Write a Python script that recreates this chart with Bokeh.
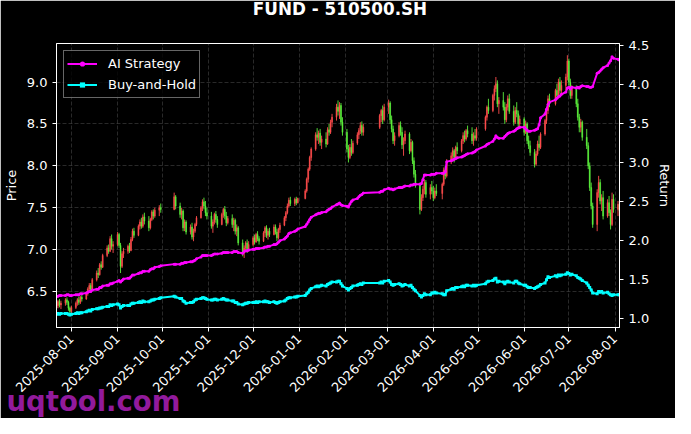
import math
import pandas as pd
from bokeh.plotting import figure
from bokeh.models import (Range1d, LinearAxis, FixedTicker, NumeralTickFormatter,
                          DatetimeTickFormatter, Label, Legend, LegendItem, ColumnDataSource)
from bokeh.embed import file_html
from bokeh.resources import INLINE

# ---------------- data ----------------
start_date = "2025-07-22"
end_date = "2026-08-04"
holidays = ["2025-10-01", "2025-10-02", "2025-10-03", "2025-10-06", "2025-10-07", "2025-10-08",
            "2026-01-01", "2026-01-02",
            "2026-02-16", "2026-02-17", "2026-02-18", "2026-02-19", "2026-02-20", "2026-02-23",
            "2026-04-06", "2026-05-01", "2026-05-04", "2026-05-05", "2026-06-19"]

opens = [6.30, 6.33, 6.38, 6.34,
         6.36, 6.40, 6.37, 6.30, 6.26,
         6.31, 6.36, 6.40, 6.37, 6.43,
         6.41, 6.48, 6.53, 6.57, 6.52,
         6.64, 6.72, 6.70, 6.82, 6.79,
         6.93, 7.02, 6.98, 7.13, 7.04,
         7.06, 7.18, 7.05, 6.80, 6.95,
         6.98, 7.04, 6.99, 7.12, 7.22,
         7.17, 7.28, 7.33, 7.28, 7.39,
         7.34, 7.26, 7.36, 7.45, 7.40,
         7.47, 7.50,
         7.48, 7.63,
         7.52, 7.42, 7.46, 7.26, 7.33,
         7.21, 7.27, 7.15, 7.22, 7.30,
         7.38, 7.50, 7.57, 7.52, 7.44,
         7.40, 7.28, 7.33, 7.42, 7.36,
         7.30, 7.42, 7.48, 7.40, 7.32,
         7.37, 7.30, 7.35, 7.22, 7.26,
         7.08, 6.96, 7.02, 7.08, 7.00,
         7.06, 7.14, 7.09, 7.18, 7.13,
         7.10, 7.20, 7.26, 7.17, 7.22,
         7.18, 7.27, 7.21, 7.14, 7.24,
         7.29, 7.38, 7.44, 7.52, 7.59,
         7.55, 7.60, 7.56,
         7.61, 7.70, 7.84, 7.96, 8.10,
         8.20, 8.37, 8.34, 8.39, 8.28,
         8.32, 8.26, 8.43, 8.40, 8.52,
         8.58, 8.70, 8.65, 8.72, 8.52,
         8.40, 8.20, 8.10, 8.22, 8.16,
         8.27, 8.37, 8.42, 8.48, 8.40,
         8.46, 8.60, 8.66, 8.55,
         8.70, 8.75, 8.55, 8.44, 8.30,
         8.36, 8.48, 8.40, 8.25, 8.30,
         8.38, 8.18, 8.28, 8.06, 7.90,
         7.78, 7.48, 7.62, 7.72, 7.80,
         7.66, 7.74, 7.70, 7.62, 7.70,
         7.67, 7.78, 7.95, 7.88,
         8.05, 8.12, 8.18, 8.10, 8.22,
         8.18, 8.30, 8.36, 8.32, 8.42,
         8.38, 8.30, 8.36, 8.33,
         8.44, 8.58, 8.70,
         8.66, 8.84, 8.92, 8.98, 8.74,
         8.78, 8.70, 8.55, 8.70, 8.80,
         8.65, 8.52, 8.66, 8.62, 8.50,
         8.56, 8.40, 8.50, 8.30, 8.24,
         8.16, 8.02, 8.14, 8.26, 8.22,
         8.38, 8.54, 8.66, 8.80,
         8.74, 8.90, 8.84, 9.00, 8.90,
         8.96, 9.06, 9.25, 9.00, 8.84,
         8.92, 8.74, 8.58, 8.46, 8.52,
         8.34, 8.24, 8.00, 7.74, 7.52,
         7.30, 7.68, 7.80, 7.58, 7.62,
         7.40, 7.56, 7.44, 7.30, 7.60,
         7.48, 7.54]

highs = [6.36, 6.40, 6.41, 6.39,
         6.42, 6.43, 6.39, 6.32, 6.33,
         6.38, 6.42, 6.44, 6.45, 6.47,
         6.50, 6.55, 6.60, 6.60, 6.66,
         6.75, 6.78, 6.84, 6.86, 6.95,
         7.05, 7.06, 7.16, 7.18, 7.10,
         7.21, 7.20, 7.08, 6.98, 7.02,
         7.06, 7.08, 7.15, 7.25, 7.26,
         7.30, 7.36, 7.38, 7.42, 7.44,
         7.40, 7.38, 7.47, 7.48, 7.50,
         7.53, 7.55,
         7.68, 7.65,
         7.56, 7.50, 7.48, 7.36, 7.35,
         7.30, 7.32, 7.25, 7.32, 7.40,
         7.52, 7.60, 7.62, 7.58, 7.50,
         7.45, 7.36, 7.44, 7.46, 7.40,
         7.44, 7.50, 7.52, 7.45, 7.40,
         7.42, 7.38, 7.37, 7.30, 7.28,
         7.12, 7.05, 7.10, 7.12, 7.10,
         7.16, 7.18, 7.20, 7.22, 7.16,
         7.22, 7.28, 7.29, 7.25, 7.26,
         7.30, 7.30, 7.25, 7.26, 7.32,
         7.40, 7.46, 7.55, 7.62, 7.63,
         7.62, 7.63, 7.62,
         7.72, 7.86, 7.98, 8.12, 8.22,
         8.40, 8.45, 8.42, 8.44, 8.36,
         8.40, 8.46, 8.50, 8.55, 8.62,
         8.74, 8.78, 8.76, 8.75, 8.58,
         8.44, 8.25, 8.26, 8.32, 8.30,
         8.40, 8.45, 8.52, 8.53, 8.50,
         8.62, 8.68, 8.72, 8.74,
         8.79, 8.77, 8.60, 8.48, 8.40,
         8.52, 8.53, 8.46, 8.34, 8.42,
         8.40, 8.32, 8.30, 8.10, 7.95,
         7.80, 7.66, 7.76, 7.84, 7.83,
         7.78, 7.82, 7.76, 7.74, 7.78,
         7.80, 7.98, 8.00, 8.08,
         8.16, 8.22, 8.20, 8.24, 8.28,
         8.32, 8.40, 8.42, 8.44, 8.48,
         8.46, 8.40, 8.44, 8.46,
         8.60, 8.72, 8.80,
         8.86, 8.96, 9.06, 9.02, 8.82,
         8.88, 8.76, 8.74, 8.84, 8.86,
         8.72, 8.70, 8.76, 8.66, 8.60,
         8.58, 8.54, 8.52, 8.36, 8.30,
         8.20, 8.18, 8.30, 8.36, 8.40,
         8.56, 8.70, 8.84, 8.86,
         8.92, 8.98, 9.04, 9.06, 9.02,
         9.10, 9.32, 9.28, 9.04, 8.96,
         8.96, 8.80, 8.62, 8.56, 8.54,
         8.44, 8.28, 8.04, 7.80, 7.56,
         7.72, 7.88, 7.84, 7.66, 7.70,
         7.60, 7.64, 7.48, 7.68, 7.66,
         7.58, 7.58]

lows = [6.27, 6.30, 6.31, 6.29,
        6.33, 6.34, 6.27, 6.22, 6.24,
        6.29, 6.33, 6.34, 6.35, 6.38,
        6.40, 6.45, 6.50, 6.49, 6.51,
        6.62, 6.66, 6.69, 6.76, 6.78,
        6.91, 6.95, 6.97, 7.00, 6.96,
        7.04, 7.02, 6.72, 6.78, 6.90,
        6.95, 6.96, 6.98, 7.10, 7.14,
        7.16, 7.24, 7.25, 7.26, 7.30,
        7.22, 7.24, 7.34, 7.36, 7.38,
        7.40, 7.44,
        7.47, 7.48,
        7.38, 7.36, 7.22, 7.22, 7.18,
        7.18, 7.12, 7.10, 7.20, 7.28,
        7.37, 7.46, 7.48, 7.40, 7.36,
        7.25, 7.20, 7.30, 7.32, 7.26,
        7.29, 7.38, 7.36, 7.28, 7.30,
        7.26, 7.22, 7.18, 7.16, 7.05,
        6.92, 6.90, 6.98, 6.96, 6.98,
        7.04, 7.06, 7.08, 7.10, 7.06,
        7.09, 7.15, 7.14, 7.12, 7.15,
        7.17, 7.18, 7.10, 7.12, 7.20,
        7.28, 7.34, 7.42, 7.50, 7.52,
        7.52, 7.53, 7.55,
        7.60, 7.68, 7.80, 7.94, 8.06,
        8.18, 8.30, 8.26, 8.24, 8.20,
        8.22, 8.25, 8.36, 8.38, 8.46,
        8.54, 8.60, 8.56, 8.48, 8.36,
        8.16, 8.04, 8.08, 8.12, 8.14,
        8.25, 8.32, 8.38, 8.36, 8.36,
        8.44, 8.52, 8.50, 8.53,
        8.62, 8.50, 8.40, 8.26, 8.24,
        8.34, 8.36, 8.20, 8.12, 8.26,
        8.14, 8.16, 8.02, 7.86, 7.74,
        7.42, 7.46, 7.58, 7.66, 7.62,
        7.60, 7.66, 7.58, 7.60, 7.64,
        7.60, 7.76, 7.84, 7.86,
        8.02, 8.08, 8.04, 8.08, 8.14,
        8.16, 8.26, 8.28, 8.30, 8.34,
        8.26, 8.24, 8.30, 8.30,
        8.42, 8.54, 8.62,
        8.64, 8.78, 8.88, 8.70, 8.62,
        8.66, 8.50, 8.52, 8.66, 8.62,
        8.48, 8.50, 8.58, 8.46, 8.44,
        8.36, 8.38, 8.26, 8.20, 8.12,
        7.98, 8.00, 8.12, 8.18, 8.20,
        8.36, 8.50, 8.62, 8.70,
        8.72, 8.80, 8.82, 8.86, 8.84,
        8.90, 9.02, 8.96, 8.80, 8.80,
        8.70, 8.54, 8.40, 8.40, 8.30,
        8.20, 7.96, 7.70, 7.48, 7.26,
        7.22, 7.62, 7.54, 7.46, 7.36,
        7.38, 7.40, 7.24, 7.28, 7.44,
        7.40, 7.42]

closes = [6.33, 6.38, 6.34, 6.36,
          6.40, 6.37, 6.30, 6.26, 6.31,
          6.36, 6.40, 6.37, 6.43, 6.41,
          6.48, 6.53, 6.57, 6.52, 6.64,
          6.72, 6.70, 6.82, 6.79, 6.93,
          7.02, 6.98, 7.13, 7.04, 7.06,
          7.18, 7.05, 6.80, 6.95, 6.98,
          7.04, 6.99, 7.12, 7.22, 7.17,
          7.28, 7.33, 7.28, 7.39, 7.34,
          7.26, 7.36, 7.45, 7.40, 7.47,
          7.50, 7.48,
          7.63, 7.52,
          7.42, 7.46, 7.26, 7.33, 7.21,
          7.27, 7.15, 7.22, 7.30, 7.38,
          7.50, 7.57, 7.52, 7.44, 7.40,
          7.28, 7.33, 7.42, 7.36, 7.30,
          7.42, 7.48, 7.40, 7.32, 7.37,
          7.30, 7.35, 7.22, 7.26, 7.08,
          6.96, 7.02, 7.08, 7.00, 7.06,
          7.14, 7.09, 7.18, 7.13, 7.10,
          7.20, 7.26, 7.17, 7.22, 7.18,
          7.27, 7.21, 7.14, 7.24, 7.29,
          7.38, 7.44, 7.52, 7.59, 7.55,
          7.60, 7.56, 7.61,
          7.70, 7.84, 7.96, 8.10, 8.20,
          8.37, 8.34, 8.39, 8.28, 8.32,
          8.26, 8.43, 8.40, 8.52, 8.58,
          8.70, 8.65, 8.72, 8.52, 8.40,
          8.20, 8.10, 8.22, 8.16, 8.27,
          8.37, 8.42, 8.48, 8.40, 8.46,
          8.60, 8.66, 8.55, 8.70,
          8.75, 8.55, 8.44, 8.30, 8.36,
          8.48, 8.40, 8.25, 8.30, 8.38,
          8.18, 8.28, 8.06, 7.90, 7.78,
          7.48, 7.62, 7.72, 7.80, 7.66,
          7.74, 7.70, 7.62, 7.70, 7.67,
          7.78, 7.95, 7.88, 8.05,
          8.12, 8.18, 8.10, 8.22, 8.18,
          8.30, 8.36, 8.32, 8.42, 8.38,
          8.30, 8.36, 8.33, 8.44,
          8.58, 8.70, 8.66,
          8.84, 8.92, 8.98, 8.74, 8.78,
          8.70, 8.55, 8.70, 8.80, 8.65,
          8.52, 8.66, 8.62, 8.50, 8.56,
          8.40, 8.50, 8.30, 8.24, 8.16,
          8.02, 8.14, 8.26, 8.22, 8.38,
          8.54, 8.66, 8.80, 8.74,
          8.90, 8.84, 9.00, 8.90, 8.96,
          9.06, 9.25, 9.00, 8.84, 8.92,
          8.74, 8.58, 8.46, 8.52, 8.34,
          8.24, 8.00, 7.74, 7.52, 7.30,
          7.68, 7.80, 7.58, 7.62, 7.40,
          7.56, 7.44, 7.30, 7.60, 7.48,
          7.54, 7.46]

ai_strategy = [1.29, 1.29, 1.30, 1.30,
               1.30, 1.31, 1.31, 1.30, 1.30,
               1.31, 1.31, 1.31, 1.32, 1.32,
               1.33, 1.34, 1.35, 1.35, 1.37,
               1.38, 1.38, 1.40, 1.40, 1.42,
               1.43, 1.43, 1.45, 1.45, 1.46,
               1.48, 1.49, 1.47, 1.49, 1.51,
               1.52, 1.52, 1.54, 1.56, 1.56,
               1.58, 1.59, 1.59, 1.61, 1.61,
               1.61, 1.63, 1.64, 1.64, 1.66,
               1.67, 1.68,
               1.70, 1.70,
               1.70, 1.71, 1.71, 1.72, 1.72,
               1.73, 1.73, 1.74, 1.75, 1.77,
               1.79, 1.81, 1.81, 1.81, 1.81,
               1.81, 1.82, 1.83, 1.83, 1.83,
               1.84, 1.85, 1.85, 1.85, 1.85,
               1.85, 1.86, 1.86, 1.86, 1.85,
               1.84, 1.86, 1.87, 1.87, 1.88,
               1.89, 1.89, 1.90, 1.90, 1.90,
               1.91, 1.92, 1.92, 1.93, 1.93,
               1.95, 1.95, 1.96, 1.98, 2.00,
               2.02, 2.04, 2.06, 2.09, 2.10,
               2.12, 2.13, 2.15,
               2.18, 2.21, 2.24, 2.27, 2.30,
               2.33, 2.34, 2.35, 2.35, 2.36,
               2.37, 2.39, 2.40, 2.41, 2.43,
               2.46, 2.47, 2.48, 2.46, 2.45,
               2.44, 2.43, 2.47, 2.50, 2.52,
               2.54, 2.56, 2.58, 2.59, 2.61,
               2.62, 2.63, 2.63, 2.65,
               2.67, 2.66, 2.66, 2.65, 2.66,
               2.68, 2.68, 2.68, 2.69, 2.70,
               2.70, 2.71, 2.71, 2.72, 2.72,
               2.72, 2.73, 2.78, 2.84, 2.84,
               2.84, 2.85, 2.85, 2.85, 2.86,
               2.86, 2.86, 2.88, 3.01,
               3.02, 3.03, 3.04, 3.05, 3.06,
               3.07, 3.08, 3.09, 3.10, 3.11,
               3.12, 3.13, 3.14, 3.16,
               3.21, 3.23, 3.24,
               3.27, 3.30, 3.34, 3.32, 3.31,
               3.31, 3.33, 3.35, 3.37, 3.38,
               3.40, 3.41, 3.43, 3.44, 3.45,
               3.45, 3.43, 3.41, 3.40, 3.40,
               3.41, 3.42, 3.43, 3.48, 3.57,
               3.62, 3.68, 3.74, 3.77,
               3.80, 3.82, 3.84, 3.85, 3.87,
               3.90, 3.95, 3.96, 3.94, 3.96,
               3.95, 3.96, 3.95, 3.97, 3.98,
               3.97, 3.97, 3.96, 3.96, 3.97,
               4.14, 4.15, 4.17, 4.19, 4.21,
               4.24, 4.27, 4.30, 4.35, 4.33,
               4.32, 4.31]

buy_and_hold = [1.06, 1.07, 1.06, 1.07,
                1.07, 1.07, 1.06, 1.05, 1.06,
                1.07, 1.08, 1.07, 1.08, 1.08,
                1.09, 1.10, 1.11, 1.10, 1.12,
                1.13, 1.13, 1.14, 1.14, 1.15,
                1.16, 1.16, 1.18, 1.17, 1.18,
                1.19, 1.18, 1.14, 1.16, 1.17,
                1.17, 1.17, 1.19, 1.20, 1.20,
                1.21, 1.22, 1.21, 1.23, 1.22,
                1.22, 1.23, 1.24, 1.24, 1.25,
                1.26, 1.27,
                1.29, 1.28,
                1.26, 1.26, 1.23, 1.22, 1.20,
                1.21, 1.21, 1.22, 1.24, 1.25,
                1.26, 1.27, 1.27, 1.26, 1.25,
                1.24, 1.24, 1.25, 1.25, 1.24,
                1.25, 1.26, 1.25, 1.24, 1.24,
                1.23, 1.23, 1.21, 1.21, 1.19,
                1.18, 1.19, 1.20, 1.20, 1.21,
                1.21, 1.21, 1.22, 1.21, 1.22,
                1.22, 1.23, 1.22, 1.22, 1.21,
                1.22, 1.21, 1.20, 1.21, 1.22,
                1.23, 1.24, 1.26, 1.27, 1.27,
                1.28, 1.28, 1.29,
                1.30, 1.32, 1.34, 1.37, 1.39,
                1.41, 1.42, 1.41, 1.42, 1.43,
                1.42, 1.44, 1.45, 1.46, 1.47,
                1.47, 1.48, 1.48, 1.45, 1.42,
                1.39, 1.37, 1.39, 1.40, 1.42,
                1.43, 1.44, 1.45, 1.44, 1.46,
                1.46, 1.47, 1.46, 1.48,
                1.49, 1.47, 1.44, 1.43, 1.44,
                1.45, 1.44, 1.42, 1.43, 1.44,
                1.42, 1.43, 1.40, 1.38, 1.36,
                1.30, 1.28, 1.30, 1.32, 1.31,
                1.31, 1.33, 1.33, 1.34, 1.33,
                1.32, 1.31, 1.31, 1.36,
                1.38, 1.39, 1.38, 1.40, 1.40,
                1.41, 1.42, 1.41, 1.43, 1.43,
                1.42, 1.43, 1.42, 1.43,
                1.45, 1.47, 1.48,
                1.49, 1.51, 1.52, 1.47, 1.48,
                1.47, 1.45, 1.47, 1.48, 1.47,
                1.46, 1.48, 1.48, 1.46, 1.45,
                1.43, 1.43, 1.41, 1.40, 1.40,
                1.39, 1.40, 1.41, 1.42, 1.44,
                1.46, 1.50, 1.54, 1.53,
                1.55, 1.54, 1.56, 1.55, 1.56,
                1.57, 1.59, 1.58, 1.56, 1.57,
                1.55, 1.53, 1.52, 1.51, 1.49,
                1.46, 1.43, 1.40, 1.37, 1.33,
                1.32, 1.35, 1.34, 1.35, 1.33,
                1.34, 1.32, 1.31, 1.30, 1.31,
                1.31, 1.31]

month_ticks = ["2025-08-01", "2025-09-01", "2025-10-01", "2025-11-01", "2025-12-01",
               "2026-01-01", "2026-02-01", "2026-03-01", "2026-04-01", "2026-05-01",
               "2026-06-01", "2026-07-01", "2026-08-01"]
price_ticks = [6.5, 7.0, 7.5, 8.0, 8.5, 9.0]
return_ticks = [1.0, 1.5, 2.0, 2.5, 3.0, 3.5, 4.0, 4.5]

# ---------------- build ----------------
hol = set(pd.to_datetime(holidays))
dates = [d for d in pd.bdate_range(start_date, end_date) if d not in hol]
n = len(dates)
for arr in (opens, highs, lows, closes, ai_strategy, buy_and_hold):
    assert len(arr) == n, (len(arr), n)

UP = "#ff4d4d"
DOWN = "#5cf03c"
colors = [UP if c >= o else DOWN for o, c in zip(opens, closes)]
src = ColumnDataSource(dict(
    date=dates, open=opens, high=highs, low=lows, close=closes,
    top=[max(o, c) for o, c in zip(opens, closes)],
    bottom=[min(o, c) for o, c in zip(opens, closes)],
    color=colors, ai=ai_strategy, bh=buy_and_hold))

FONT = "DejaVu Sans"
FRAME_W = 567
p = figure(width=675, height=418, x_axis_type="datetime",
           x_range=Range1d(pd.Timestamp(start_date), pd.Timestamp(end_date)),
           y_range=Range1d(6.07, 9.46),
           output_backend="svg", toolbar_location=None,
           min_border_left=55, min_border_right=53, min_border_top=43, min_border_bottom=91,
           background_fill_color="black", border_fill_color="black")
p.extra_y_ranges = {"ret": Range1d(0.89, 4.52)}
p.title.text = ""
p.title.visible = False

p.outline_line_color = "white"
p.outline_line_width = 1

day_ms = 24 * 3600 * 1000
p.segment(x0="date", y0="low", x1="date", y1="high", color="color", line_width=1,
          source=src, alpha=0.9)
p.vbar(x="date", width=0.6 * day_ms, top="top", bottom="bottom", fill_color="color",
       line_color="color", line_width=0.6, source=src, alpha=0.9)

ai_line = p.line("date", "ai", source=src, y_range_name="ret", color="#ff00ff", line_width=2)
ai_pts = p.scatter("date", "ai", source=src, y_range_name="ret", marker="circle", size=3,
                   fill_color="#ff00ff", line_color=None)
bh_line = p.line("date", "bh", source=src, y_range_name="ret", color="#00ffff", line_width=2)
bh_pts = p.scatter("date", "bh", source=src, y_range_name="ret", marker="square", size=3,
                   fill_color="#00ffff", line_color=None)

right_axis = LinearAxis(y_range_name="ret", axis_label="Return")
p.add_layout(right_axis, "right")

p.xaxis.ticker = FixedTicker(ticks=[pd.Timestamp(t).value // 10**6 for t in month_ticks])
p.xaxis.formatter = DatetimeTickFormatter(days="%Y-%m-%d", months="%Y-%m-%d", years="%Y-%m-%d")
p.xaxis.major_label_orientation = math.pi / 4
# blank x-axis label with negative standoff: frees room in the bottom panel for the watermark
p.xaxis.axis_label = " "
p.xaxis.axis_label_standoff = -40
p.xaxis[0].level = "overlay"   # date labels drawn over the watermark
p.yaxis[0].ticker = FixedTicker(ticks=price_ticks)
p.yaxis[0].formatter = NumeralTickFormatter(format="0.0")
p.yaxis[0].axis_label = "Price"
right_axis.ticker = FixedTicker(ticks=return_ticks)
right_axis.formatter = NumeralTickFormatter(format="0.0")

for ax in p.xaxis + p.yaxis:
    ax.axis_line_color = "white"
    ax.major_tick_line_color = "white"
    ax.minor_tick_line_color = None
    ax.major_tick_out = 4
    ax.major_tick_in = 0
    ax.major_label_text_color = "white"
    ax.major_label_text_font = FONT
    ax.major_label_text_font_size = "13px"
    ax.axis_label_text_color = "white"
    ax.axis_label_text_font = FONT
    ax.axis_label_text_font_size = "13px"
    ax.axis_label_text_font_style = "normal"

for g in (p.xgrid, p.ygrid):
    g.grid_line_color = "#9a9a9a"
    g.grid_line_alpha = 0.45
    g.grid_line_dash = "4 2"
    g.grid_line_width = 0.6

legend = Legend(items=[LegendItem(label="AI Strategy", renderers=[ai_line, ai_pts]),
                       LegendItem(label="Buy-and-Hold", renderers=[bh_line, bh_pts])],
                location="top_left", background_fill_color="black", background_fill_alpha=0.8,
                border_line_color="#cccccc", border_line_width=1,
                label_text_color="white", label_text_font=FONT, label_text_font_size="13px",
                glyph_width=30, glyph_height=13, label_height=19, padding=3, spacing=2,
                margin=7, label_standoff=11)
p.add_layout(legend)

# chart title as a label in the top side panel
title_lbl = Label(x=FRAME_W / 2, y=35, x_units="screen", y_units="screen",
                  text="FUND - 510500.SH", text_font=FONT, text_font_size="16.8px",
                  text_font_style="bold", text_color="white", text_align="center",
                  text_baseline="alphabetic")
p.add_layout(title_lbl, "above")

# watermark lives in the bottom side panel (not clipped to the frame)
wm = Label(x=-50, y=8.7, x_units="screen", y_units="screen", text="uqtool.com",
           text_font=FONT, text_font_size="27.5px", text_font_style="bold",
           text_color="#921a9c", text_alpha=1.0, text_align="left", text_baseline="alphabetic",
           level="guide")
p.add_layout(wm, "below")

open("out.html", "w").write(file_html(p, INLINE))
